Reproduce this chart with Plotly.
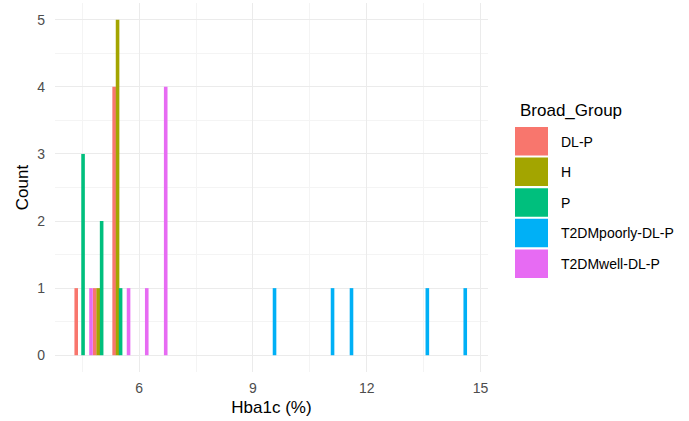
import plotly.graph_objects as go

groups = ["DL-P", "H", "P", "T2DMpoorly-DL-P", "T2DMwell-DL-P"]
colors = ["#F8766D", "#A3A500", "#00BF7D", "#00B0F6", "#E76BF3"]

dlp_x = [4.34, 4.83, 5.34]
dlp_y = [1, 1, 4]
h_x = [4.92, 5.43]
h_y = [1, 5]
p_x = [4.52, 5.01, 5.51]
p_y = [3, 2, 1]
poor_x = [9.57, 11.1, 11.6, 13.6, 14.6]
poor_y = [1, 1, 1, 1, 1]
well_x = [4.73, 5.72, 6.2, 6.7]
well_y = [1, 1, 1, 4]

xs = [dlp_x, h_x, p_x, poor_x, well_x]
ys = [dlp_y, h_y, p_y, poor_y, well_y]

W, H = 689, 421
ML, MR, MT, MB = 55, 201, 3, 49
PW, PH = W - ML - MR, H - MT - MB


def px_x(p):
    return (p - ML) / PW


def px_y(p):
    return (H - MB - p) / PH


font = "Liberation Sans, Arial, sans-serif"
fig = go.Figure()
for g, c, x, y in zip(groups, colors, xs, ys):
    fig.add_trace(go.Bar(x=x, y=y, name=g, width=0.095, showlegend=False,
                         marker=dict(color=c, line=dict(width=0))))

# legend drawn as keys + labels
shapes = []
annotations = [dict(text="Broad_Group", xref="paper", yref="paper",
                    x=px_x(518), y=px_y(110), xanchor="left", yanchor="middle",
                    showarrow=False, font=dict(size=17, color="black", family=font))]
key_top = 127
step = 30.6
for i, (g, c) in enumerate(zip(groups, colors)):
    top = key_top + i * step
    shapes.append(dict(type="rect", xref="paper", yref="paper",
                       x0=px_x(515), x1=px_x(548), y0=px_y(top), y1=px_y(top + 28.5),
                       fillcolor=c, line=dict(width=0)))
    annotations.append(dict(text=g, xref="paper", yref="paper",
                            x=px_x(559), y=px_y(top + 14.5), xanchor="left", yanchor="middle",
                            showarrow=False, font=dict(size=14, color="black", family=font)))

fig.update_layout(
    width=W, height=H,
    margin=dict(l=ML, r=MR, t=MT, b=MB),
    barmode="overlay",
    plot_bgcolor="white", paper_bgcolor="white",
    font=dict(family=font, size=13, color="#4D4D4D"),
    showlegend=False,
    shapes=shapes,
    annotations=annotations,
)
fig.update_xaxes(
    range=[3.78, 15.2], tick0=0, dtick=3,
    showgrid=True, gridcolor="#EBEBEB", gridwidth=1,
    minor=dict(showgrid=True, dtick=1.5, tick0=0, gridcolor="#F4F4F4", gridwidth=0.6),
    zeroline=False, showline=False, ticks="",
    ticklabelstandoff=6,
    tickfont=dict(size=14, color="#4D4D4D"),
    title=dict(text="Hba1c (%)", font=dict(size=17, color="black"), standoff=6),
)
fig.update_yaxes(
    range=[-0.25, 5.25], tick0=0, dtick=1,
    showgrid=True, gridcolor="#EBEBEB", gridwidth=1,
    minor=dict(showgrid=True, dtick=0.5, tick0=0, gridcolor="#F4F4F4", gridwidth=0.6),
    zeroline=False, showline=False, ticks="",
    ticklabelstandoff=9,
    tickfont=dict(size=14, color="#4D4D4D"),
    title=dict(text="Count", font=dict(size=17, color="black"), standoff=4),
)
fig.write_html("out.html")
